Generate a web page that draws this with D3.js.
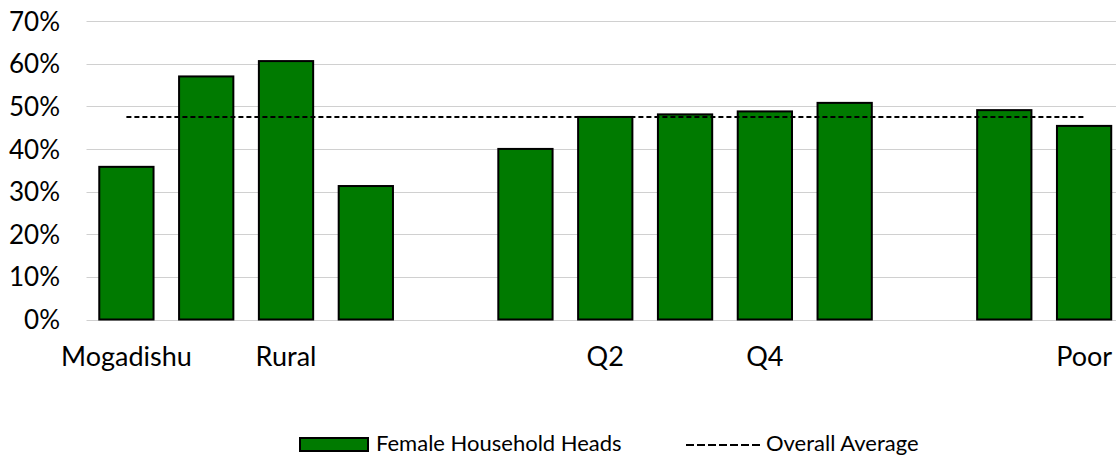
<!DOCTYPE html>
<html>
<head>
<meta charset="utf-8">
<script src="https://cdn.jsdelivr.net/npm/d3@7"></script>
<style>
  html, body { margin: 0; padding: 0; background: #fff; }
  svg { display: block; font-family: Lato, "Open Sans", sans-serif; }
</style>
</head>
<body>
<svg id="chart" width="1116" height="456"></svg>
<script>
// ---- data ----
const categories = ["Mogadishu", "", "Rural", "", "", "", "Q2", "", "Q4", "", "", "", "Poor"];
const femaleHeads = [0.358, 0.570, 0.606, 0.313, null, 0.400, 0.475, 0.481, 0.488, 0.508, null, 0.491, 0.454];
const overallAverage = 0.475;
const yTicks = [0, 0.1, 0.2, 0.3, 0.4, 0.5, 0.6, 0.7];
const seriesNames = ["Female Household Heads", "Overall Average"];

// ---- layout ----
const W = 1116, H = 456;
const svg = d3.select("#chart");
const idx = d3.range(categories.length);

const x = d3.scaleBand()
  .domain(idx)
  .range([86.5, 1124])
  .paddingInner(0.32)
  .paddingOuter(0.16);

const y = d3.scaleLinear().domain([0, 0.7]).range([319.5, 21]);

// gridlines
svg.append("g")
  .selectAll("line")
  .data(yTicks)
  .join("line")
  .attr("x1", 86.5).attr("x2", W)
  .attr("y1", d => Math.round(y(d)) + 0.5)
  .attr("y2", d => Math.round(y(d)) + 0.5)
  .attr("stroke", "#d0d0d0")
  .attr("stroke-width", 1);

// y axis labels
const yAxis = d3.axisLeft(y).tickValues(yTicks).tickFormat(d3.format(".0%")).tickSize(0).tickPadding(0);
const gy = svg.append("g").attr("transform", "translate(60,0)").call(yAxis);
gy.select(".domain").remove();
gy.selectAll("text")
  .attr("font-family", "Lato, sans-serif")
  .attr("font-size", 26)
  .attr("fill", "#000")
  .attr("dy", "0.35em");

// x axis labels
const xAxis = d3.axisBottom(x).tickFormat(i => categories[i]).tickSize(0).tickPadding(0);
const gx = svg.append("g").attr("transform", "translate(0,366)").call(xAxis);
gx.select(".domain").remove();
gx.selectAll("text")
  .attr("font-family", "Lato, sans-serif")
  .attr("font-size", 27)
  .attr("fill", "#000")
  .attr("dy", 0)
  .attr("y", 0);

// bars
svg.append("g")
  .selectAll("rect")
  .data(idx.filter(i => femaleHeads[i] != null))
  .join("rect")
  .attr("x", i => x(i))
  .attr("y", i => y(femaleHeads[i]))
  .attr("width", x.bandwidth())
  .attr("height", i => y(0) - y(femaleHeads[i]))
  .attr("fill", "#007a00")
  .attr("stroke", "#000")
  .attr("stroke-width", 2);

// average line
svg.append("line")
  .attr("x1", x(0) + x.bandwidth() / 2)
  .attr("x2", x(categories.length - 1) + x.bandwidth() / 2)
  .attr("y1", y(overallAverage))
  .attr("y2", y(overallAverage))
  .attr("stroke", "#000")
  .attr("stroke-width", 2)
  .attr("stroke-dasharray", "5,3");

// legend
const lg = svg.append("g");
lg.append("rect")
  .attr("x", 300).attr("y", 438).attr("width", 68).attr("height", 13)
  .attr("fill", "#007a00").attr("stroke", "#000").attr("stroke-width", 2);
lg.append("text")
  .attr("x", 376).attr("y", 451)
  .attr("font-size", 22)
  .attr("fill", "#000")
  .text(seriesNames[0]);
lg.append("line")
  .attr("x1", 686).attr("x2", 760).attr("y1", 445).attr("y2", 445)
  .attr("stroke", "#000").attr("stroke-width", 2).attr("stroke-dasharray", "8,3");
lg.append("text")
  .attr("x", 766).attr("y", 451)
  .attr("font-size", 22)
  .attr("fill", "#000")
  .text(seriesNames[1]);
</script>
</body>
</html>
